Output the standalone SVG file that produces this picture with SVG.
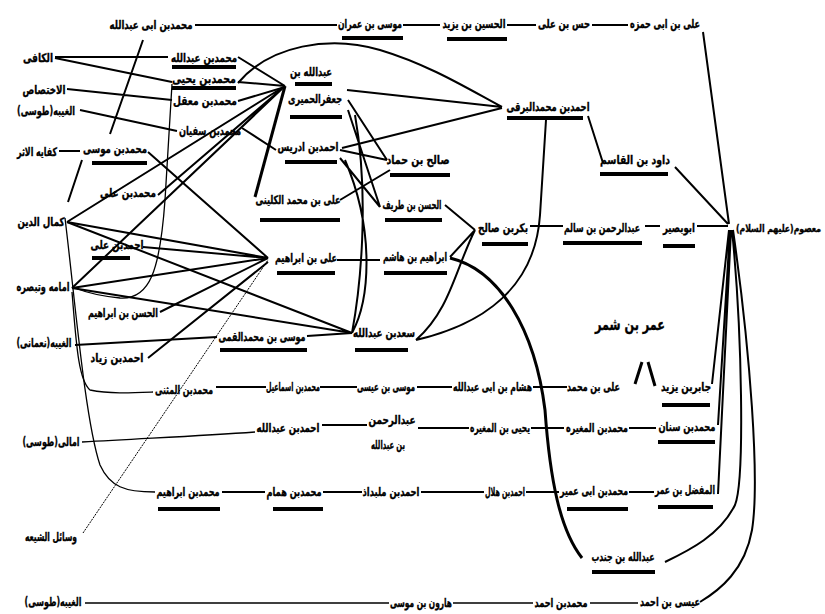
<svg xmlns="http://www.w3.org/2000/svg" width="825" height="614" viewBox="0 0 825 614">
<style>
.t{font-family:"DejaVu Sans",sans-serif;font-weight:bold;font-size:12px;text-anchor:middle;fill:#000;stroke:#000;stroke-width:0.35px}
.e{text-anchor:end}
.s{text-anchor:start}
.big{font-size:16px}
.sm{font-size:10px}
.u{stroke:#000;stroke-width:4;fill:none}
.c{stroke:#000;stroke-width:2;fill:none}
.k{stroke:#000;stroke-width:3;fill:none}
.n{stroke:#000;stroke-width:1.3;fill:none}
.d{stroke:#000;stroke-width:1;fill:none;stroke-dasharray:2 1}
</style>
<rect width="825" height="614" fill="#fff"/>
<g id="connectors">
<path class="c" d="M195,25 H337 M403,25 H440 M507,25 H536 M592,25 H628"/>
<path class="c" d="M703,32 L729,224 M675,167 L728,224 M588,116 L603,163 M697,226 H728 M645,226 H660 M530,226 H563"/>
<path class="c" d="M55,57 H168 M55,58 L172,82 M67,89 L172,100 M80,110 L177,131 M59,151 H80 M143,40 L110,134"/>
<path class="n" d="M172,84 L165,200 C160,270 150,300 120,298 C100,296 85,292 75,288"/>
<path class="c" d="M238,57 L285,86 M238,82 L285,86 M238,101 L285,87 M242,128 L276,150"/>
<path class="c" d="M238,83 C270,45 330,35 380,50 C430,65 470,90 502,107 M347,90 L502,107 M342,148 L502,108"/>
<path class="c" d="M546,120 L540,215 C535,290 480,325 416,340 M475,230 C455,270 450,310 416,340 M445,205 L475,230 M450,257 L475,230"/>
<path class="k" d="M450,258 C500,270 535,330 545,410 C550,480 560,530 582,558"/>
<path class="c" d="M337,260 H380 M307,336 L352,333 M75,345 L217,337"/>
<path class="c" d="M729,230 L712,384 M730,230 L718,425 M731,230 L718,494 M732,230 C742,330 745,480 735,505 C720,535 690,550 665,562 M733,230 C750,350 760,480 752,530 C745,570 720,590 700,602"/>
<path class="c" d="M216,387 H266 M320,387 H357 M417,387 H452 M533,387 H567"/>
<path class="c" d="M322,425 H367 M418,428 H469 M531,428 H564 M629,428 H656"/>
<path class="n" d="M82,442 C150,438 200,436 255,432"/>
<path class="c" d="M222,492 H265 M323,492 H362 M421,492 H484 M526,492 H559 M629,492 H654"/>
<path class="n" d="M85,603 H389 M453,603 H533 M590,603 H638"/>
<path class="n" d="M72,292 C76,340 78,380 90,390 C110,394 130,393 153,392"/>
<path class="n" d="M65,218 C75,300 85,420 100,465 C110,487 125,492 155,492"/>
<path class="d" d="M83,533 L268,260"/>
<path class="c" d="M148,152 L268,258 M67,222 L268,258 M143,247 L268,258 M72,288 L268,258 M160,312 L268,258 M148,358 L268,262"/>
<path class="c" d="M67,222 L285,86 M72,288 L285,86 M158,195 L285,86 M67,222 L352,333 M72,288 L352,333"/>
<path class="k" d="M285,86 L255,197"/>
<path class="c" d="M348,100 L387,160 M348,110 L380,207 M340,150 L387,160 M340,158 L380,207 M340,200 L390,170 M355,115 C370,200 360,290 352,333 M345,160 C375,230 370,300 352,333 M82,160 L68,202"/>
<path class="k" d="M642,362 L635,384 M648,362 L655,386"/>
</g>
<g id="nodes">
<g id="n1"><text class="t" x="665" y="28" textLength="70" lengthAdjust="spacingAndGlyphs">علی بن ابی حمزه</text></g>
<g id="n2"><text class="t" x="564" y="28" textLength="52" lengthAdjust="spacingAndGlyphs">حس بن علی</text></g>
<g id="n3"><text class="t" x="474" y="28" textLength="63" lengthAdjust="spacingAndGlyphs">الحسین بن یزید</text><path class="u" d="M447,39 H507"/></g>
<g id="n4"><text class="t" x="370" y="28" textLength="64" lengthAdjust="spacingAndGlyphs">موسی بن عمران</text><path class="u" d="M342,38 H403"/></g>
<g id="n5"><text class="t" x="151" y="29" textLength="83" lengthAdjust="spacingAndGlyphs">محمدبن ابی عبدالله</text></g>
<g id="n6"><text class="t" x="38" y="62" textLength="30" lengthAdjust="spacingAndGlyphs">الکافی</text></g>
<g id="n7"><text class="t" x="204" y="62" textLength="66" lengthAdjust="spacingAndGlyphs">محمدبن عبدالله</text><path class="u" d="M172,67 H236"/></g>
<g id="n8"><text class="t" x="204" y="83" textLength="64" lengthAdjust="spacingAndGlyphs">محمدبن یحیی</text><path class="u" d="M172,88 H236"/></g>
<g id="n9"><text class="t" x="44" y="94" textLength="43" lengthAdjust="spacingAndGlyphs">الاختصاص</text></g>
<g id="n10"><text class="t" x="205" y="105" textLength="64" lengthAdjust="spacingAndGlyphs">محمدبن معقل</text></g>
<g id="n11"><text class="t" x="46" y="115" textLength="58" lengthAdjust="spacingAndGlyphs">الغیبه(طوسی)</text></g>
<g id="n12"><text class="t" x="210" y="135" textLength="62" lengthAdjust="spacingAndGlyphs">محمدبن سفیان</text></g>
<g id="n13"><text class="t" x="37" y="156" textLength="40" lengthAdjust="spacingAndGlyphs">کفایه الاثر</text></g>
<g id="n14"><text class="t" x="115" y="153" textLength="64" lengthAdjust="spacingAndGlyphs">محمدبن موسی</text><path class="u" d="M92,163 H147"/></g>
<g id="n15"><text class="t" x="128" y="197" textLength="56" lengthAdjust="spacingAndGlyphs">محمدبن علی</text></g>
<g id="n16"><text class="t" x="41" y="226" textLength="47" lengthAdjust="spacingAndGlyphs">کمال الدین</text></g>
<g id="n17"><text class="t" x="117" y="249" textLength="53" lengthAdjust="spacingAndGlyphs">احمدبن علی</text><path class="u" d="M92,258 H130"/></g>
<g id="n18"><text class="t" x="43" y="291" textLength="53" lengthAdjust="spacingAndGlyphs">امامه وتبصره</text></g>
<g id="n19"><text class="t" x="123" y="317" textLength="70" lengthAdjust="spacingAndGlyphs">الحسن بن ابراهیم</text></g>
<g id="n20"><text class="t" x="44" y="347" textLength="55" lengthAdjust="spacingAndGlyphs">الغیبه(نعمانی)</text></g>
<g id="n21"><text class="t" x="117" y="362" textLength="53" lengthAdjust="spacingAndGlyphs">احمدبن زیاد</text></g>
<g id="n22"><text class="t" x="184" y="394" textLength="58" lengthAdjust="spacingAndGlyphs">محمدبن المثنی</text></g>
<g id="n23"><text class="t" x="51" y="446" textLength="57" lengthAdjust="spacingAndGlyphs">امالی(طوسی)</text></g>
<g id="n24"><text class="t" x="288" y="432" textLength="63" lengthAdjust="spacingAndGlyphs">احمدبن عبدالله</text></g>
<g id="n25"><text class="t" x="188" y="496" textLength="63" lengthAdjust="spacingAndGlyphs">محمدبن ابراهیم</text><path class="u" d="M158,509 H220"/></g>
<g id="n26"><text class="t" x="51" y="541" textLength="52" lengthAdjust="spacingAndGlyphs">وسائل الشیعه</text></g>
<g id="n27"><text class="t" x="53" y="606" textLength="57" lengthAdjust="spacingAndGlyphs">الغیبه(طوسی)</text></g>
<g id="n28"><text class="t" x="311" y="76" textLength="42" lengthAdjust="spacingAndGlyphs">عبدالله بن</text><path class="u" d="M295,84 H332"/><text class="t" x="315" y="103" textLength="54" lengthAdjust="spacingAndGlyphs">جعفرالحمیری</text><path class="u" d="M290,117 H342"/></g>
<g id="n29"><text class="t" x="308" y="151" textLength="61" lengthAdjust="spacingAndGlyphs">احمدبن ادریس</text><path class="u" d="M285,162 H337"/></g>
<g id="n30"><text class="t" x="298" y="204" textLength="85" lengthAdjust="spacingAndGlyphs">علی بن محمد الکلینی</text><path class="u" d="M260,220 H340"/></g>
<g id="n31"><text class="t" x="306" y="262" textLength="62" lengthAdjust="spacingAndGlyphs">علی بن ابراهیم</text><path class="u" d="M277,273 H335"/></g>
<g id="n32"><text class="t" x="262" y="341" textLength="87" lengthAdjust="spacingAndGlyphs">موسی بن محمدالقمی</text><path class="u" d="M220,350 H307"/></g>
<g id="n33"><text class="t" x="384" y="337" textLength="62" lengthAdjust="spacingAndGlyphs">سعدبن عبدالله</text><path class="u" d="M355,350 H408"/></g>
<g id="n34"><text class="t e" x="320" y="391" textLength="54" lengthAdjust="spacingAndGlyphs">محمدبن اسماعیل</text></g>
<g id="n35"><text class="t s" x="357" y="391" textLength="58" lengthAdjust="spacingAndGlyphs">موسی بن عیسی</text></g>
<g id="n36"><text class="t e" x="532" y="391" textLength="79" lengthAdjust="spacingAndGlyphs">هشام بن ابی عبدالله</text></g>
<g id="n37"><text class="t s" x="567" y="391" textLength="53" lengthAdjust="spacingAndGlyphs">علی بن محمد</text></g>
<g id="n38"><text class="t big" x="630" y="330" textLength="70" lengthAdjust="spacingAndGlyphs">عمر بن شمر</text></g>
<g id="n39"><text class="t" x="686" y="391" textLength="50" lengthAdjust="spacingAndGlyphs">جابربن یزید</text><path class="u" d="M662,405 H710"/></g>
<g id="n40"><text class="t" x="392" y="424" textLength="47" lengthAdjust="spacingAndGlyphs">عبدالرحمن</text><text class="t" x="388" y="449" textLength="34" lengthAdjust="spacingAndGlyphs">بن عبدالله</text></g>
<g id="n41"><text class="t" x="418" y="164" textLength="63" lengthAdjust="spacingAndGlyphs">صالح بن حماد</text><path class="u" d="M390,175 H450"/></g>
<g id="n42"><text class="t" x="412" y="209" textLength="59" lengthAdjust="spacingAndGlyphs">الحسن بن طریف</text><path class="u" d="M385,220 H442"/></g>
<g id="n43"><text class="t" x="415" y="261" textLength="64" lengthAdjust="spacingAndGlyphs">ابراهیم بن هاشم</text><path class="u" d="M384,273 H447"/></g>
<g id="n44"><text class="t" x="548" y="111" textLength="83" lengthAdjust="spacingAndGlyphs">احمدبن محمدالبرقی</text><path class="u" d="M507,118 H583"/></g>
<g id="n45"><text class="t" x="635" y="164" textLength="70" lengthAdjust="spacingAndGlyphs">داود بن القاسم</text><path class="u" d="M600,174 H668"/></g>
<g id="n46"><text class="t" x="503" y="232" textLength="50" lengthAdjust="spacingAndGlyphs">بکربن صالح</text><path class="u" d="M482,244 H528"/></g>
<g id="n47"><text class="t e" x="640" y="232" textLength="76" lengthAdjust="spacingAndGlyphs">عبدالرحمن بن سالم</text><path class="u" d="M563,243 H642"/></g>
<g id="n48"><text class="t s" x="663" y="232" textLength="32" lengthAdjust="spacingAndGlyphs">ابوبصیر</text><path class="u" d="M663,246 H695"/></g>
<g id="n49"><text class="t sm e" x="821" y="232" textLength="85" lengthAdjust="spacingAndGlyphs">معصوم(علیهم السلام)</text></g>
<g id="n50"><text class="t" x="500" y="432" textLength="60" lengthAdjust="spacingAndGlyphs">یحیی بن المغیره</text></g>
<g id="n51"><text class="t" x="597" y="432" textLength="62" lengthAdjust="spacingAndGlyphs">محمدبن المغیره</text></g>
<g id="n52"><text class="t" x="687" y="431" textLength="57" lengthAdjust="spacingAndGlyphs">محمدبن سنان</text><path class="u" d="M658,442 H715"/></g>
<g id="n53"><text class="t" x="294" y="496" textLength="55" lengthAdjust="spacingAndGlyphs">محمدبن همام</text><path class="u" d="M273,509 H323"/></g>
<g id="n54"><text class="t" x="391" y="496" textLength="57" lengthAdjust="spacingAndGlyphs">احمدبن ملبداذ</text></g>
<g id="n55"><text class="t" x="505" y="496" textLength="40" lengthAdjust="spacingAndGlyphs">احمدبن هلال</text></g>
<g id="n56"><text class="t" x="594" y="495" textLength="68" lengthAdjust="spacingAndGlyphs">محمدبن ابی عمیر</text><path class="u" d="M567,509 H628"/></g>
<g id="n57"><text class="t" x="685" y="494" textLength="60" lengthAdjust="spacingAndGlyphs">المفضل بن عمر</text><path class="u" d="M658,507 H713"/></g>
<g id="n58"><text class="t" x="623" y="561" textLength="63" lengthAdjust="spacingAndGlyphs">عبدالله بن جندب</text><path class="u" d="M592,572 H655"/></g>
<g id="n59"><text class="t" x="421" y="607" textLength="62" lengthAdjust="spacingAndGlyphs">هارون بن موسی</text></g>
<g id="n60"><text class="t" x="561" y="607" textLength="53" lengthAdjust="spacingAndGlyphs">محمدبن احمد</text></g>
<g id="n61"><text class="t" x="670" y="606" textLength="60" lengthAdjust="spacingAndGlyphs">عیسی بن احمد</text></g>
</g>
</svg>
